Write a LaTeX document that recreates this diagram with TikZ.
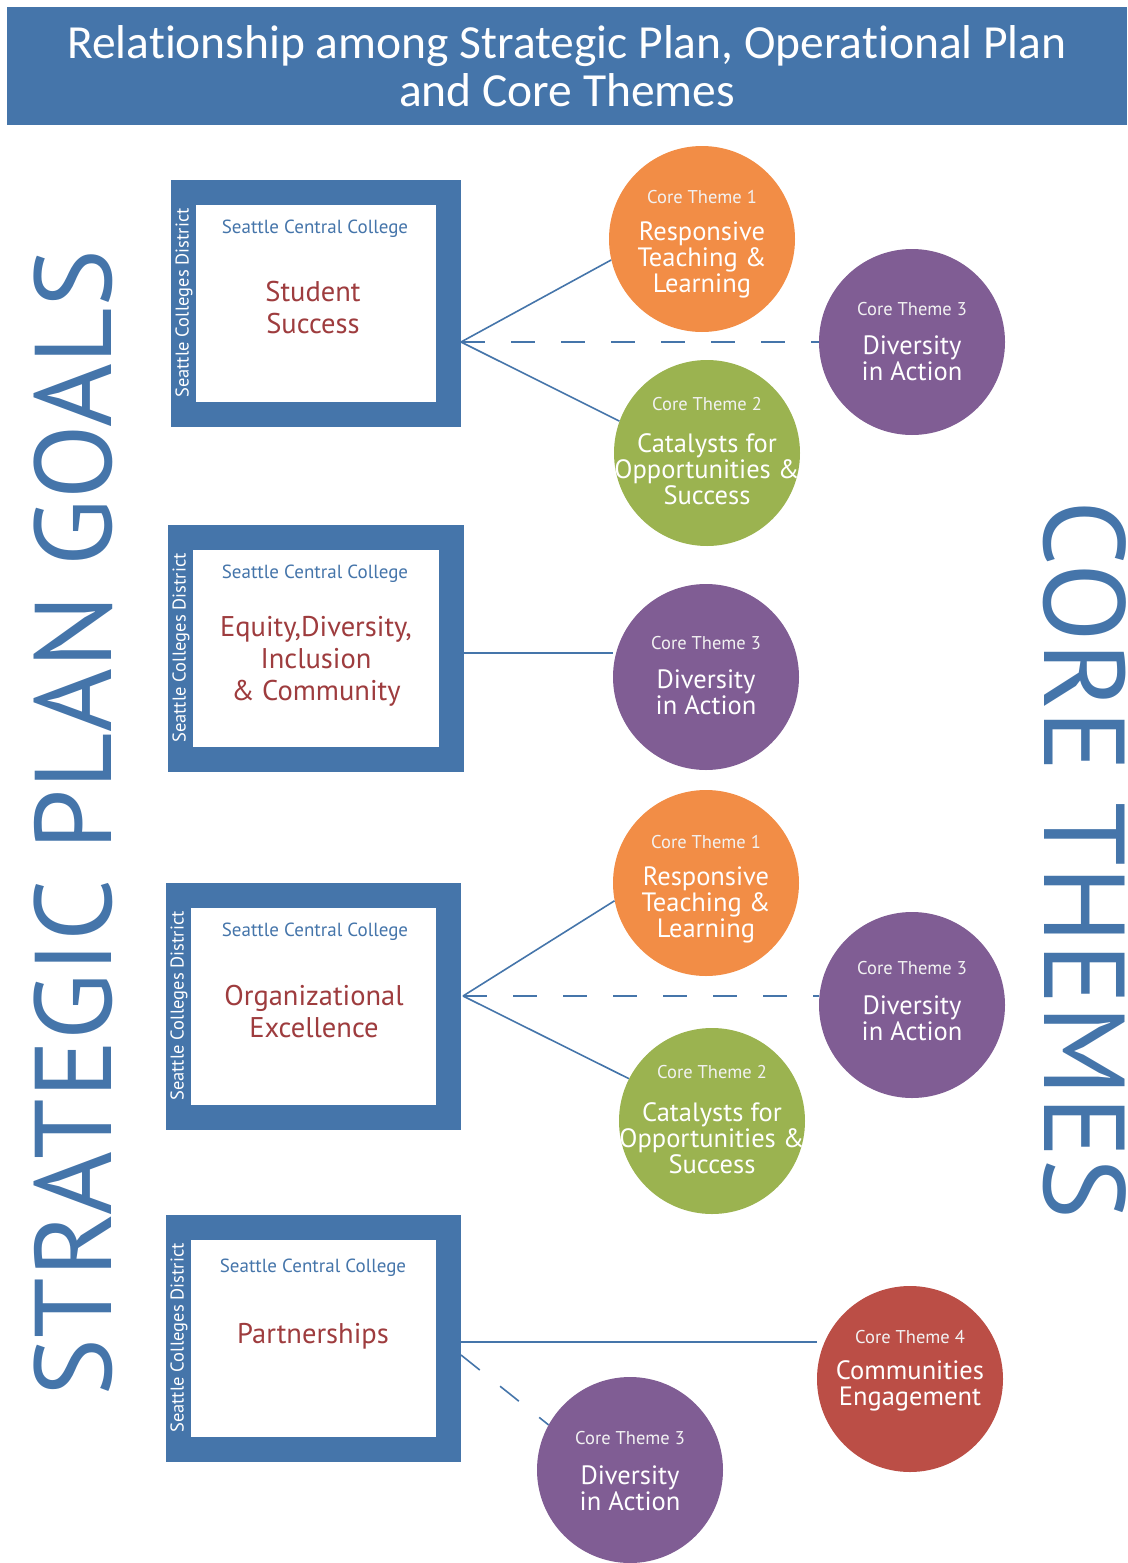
\documentclass[tikz,border=0pt]{standalone}
\usepackage{fontspec}
\setmainfont{PT Sans}
\newfontfamily\titlefont[Ligatures=NoCommon]{Carlito}
\definecolor{planblue}{RGB}{69,117,170}
\definecolor{goalred}{RGB}{158,60,62}
\definecolor{themeorange}{RGB}{242,141,70}
\definecolor{themegreen}{RGB}{155,179,80}
\definecolor{themepurple}{RGB}{128,93,148}
\definecolor{themered}{RGB}{187,78,70}

\begin{document}
\begin{tikzpicture}[x=1pt,y=-1pt,
	goalbox/.style={draw=planblue,line width=25pt,fill=white,minimum width=270pt,minimum height=222pt,inner sep=0pt},
	theme/.style={circle,fill=#1,minimum size=186pt,inner sep=0pt},
	themetext/.style={text=white,align=center,font=\fontsize{26.5}{26}\selectfont},
	corelabel/.style={text=white!90!gray,font=\fontsize{18.5}{18}\selectfont},
	district/.style={rotate=90,text=white,font=\fontsize{18.5}{20}\selectfont},
	college/.style={text=planblue,font=\fontsize{19}{20}\selectfont},
	goal/.style={text=goalred,align=center,font=\fontsize{28.5}{32}\selectfont},
	link/.style={draw=planblue,line width=1.6pt},
	dashlink/.style={link,dash pattern=on 24pt off 26pt}]
		\useasboundingbox (0,0) rectangle (1127,1563);
		% title band
		\node [fill=planblue,minimum width=1120pt,minimum height=118pt,inner sep=0pt] (band) at (567,66) {};
		\node [text=white,align=center,font=\titlefont\fontsize{47.5}{48}\selectfont] (title) at (band.center) {Relationship among Strategic Plan, Operational Plan\\and Core Themes};
		\node [rotate=90,text=planblue,font=\fontsize{109}{112}\selectfont] (left) at (73,823) {STRATEGIC PLAN GOALS};
		\node [rotate=-90,text=planblue,font=\fontsize{115}{118}\selectfont] (right) at (1085,860) {CORE THEMES};

		% goal boxes
		\node [goalbox,minimum width=265pt] (b1) at (316,303.5) {};
		\node [goalbox,minimum width=271pt] (b2) at (316,648.5) {};
		\node [goalbox] (b3) at (313.5,1006.5) {};
		\node [goalbox] (b4) at (313.5,1338.5) {};
		\node [district] (d1) at (184,303) {Seattle Colleges District};
		\node [district] (d2) at (181,648) {Seattle Colleges District};
		\node [district] (d3) at (179,1006) {Seattle Colleges District};
		\node [district] (d4) at (179,1338) {Seattle Colleges District};
		\node [college] (s1) at (315,229) {Seattle Central College};
		\node [college] (s2) at (315,574) {Seattle Central College};
		\node [college] (s3) at (315,932) {Seattle Central College};
		\node [college] (s4) at (313,1268) {Seattle Central College};
		\node [goal] (g1) at (313,308) {Student\\Success};
		\node [goal] (g2) at (316,661) {Equity,Diversity,\\Inclusion\\\& Community};
		\node [goal] (g3) at (314,1012) {Organizational\\Excellence};
		\node [goal] (g4) at (313,1336) {Partnerships};

		% core themes
		\node [theme=themeorange] (t1) at (702,239) {};
		\node [theme=themepurple] (t2) at (912,342) {};
		\node [theme=themegreen] (t3) at (707,453) {};
		\node [theme=themepurple] (t4) at (706,677) {};
		\node [theme=themeorange] (t5) at (706,883) {};
		\node [theme=themepurple] (t6) at (912,1005) {};
		\node [theme=themegreen] (t7) at (712,1121) {};
		\node [theme=themered] (t8) at (910,1379) {};
		\node [theme=themepurple] (t9) at (630,1470) {};
		\node [corelabel] at (702,197) {Core Theme 1};
		\node [themetext] at (702,260) {Responsive\\Teaching \&\\Learning};
		\node [corelabel] at (912,309) {Core Theme 3};
		\node [themetext] at (912,358) {Diversity\\in Action};
		\node [corelabel] at (707,404) {Core Theme 2};
		\node [themetext] at (707,469) {Catalysts for\\Opportunities \&\\Success};
		\node [corelabel] at (706,643) {Core Theme 3};
		\node [themetext] at (706,692) {Diversity\\in Action};
		\node [corelabel] at (706,842) {Core Theme 1};
		\node [themetext] at (706,905) {Responsive\\Teaching \&\\Learning};
		\node [corelabel] at (912,968) {Core Theme 3};
		\node [themetext] at (912,1018) {Diversity\\in Action};
		\node [corelabel] at (712,1072) {Core Theme 2};
		\node [themetext] at (712,1138) {Catalysts for\\Opportunities \&\\Success};
		\node [corelabel] at (910,1337) {Core Theme 4};
		\node [themetext] at (910,1386) {Communities\\Engagement};
		\node [corelabel] at (630,1438) {Core Theme 3};
		\node [themetext] at (630,1488) {Diversity\\in Action};

		% links
		\coordinate (j1) at (461,342);
		\coordinate (j2) at (464,653);
		\coordinate (j3) at (463,996);
		\coordinate (j4) at (461,1342);
		\coordinate (k4) at (461,1355);
		\draw [link] (j1) -- (t1.193);
		\draw [link] (j1) -- (t3.160);
		\draw [dashlink] (j1) -- (t2.west);
		\draw [link] (j2) -- (t4.west |- j2);
		\draw [link] (j3) -- (t5.191);
		\draw [link] (j3) -- (t7.153);
		\draw [dashlink] (j3) -- (t6.west |- j3);
		\draw [link] (j4) -- (t8.west |- j4);
		\draw [dashlink] (k4) -- (t9.151);
\end{tikzpicture}
\end{document}
